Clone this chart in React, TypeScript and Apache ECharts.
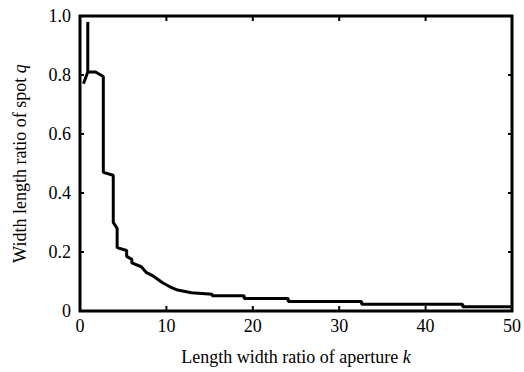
import React, { useEffect, useRef } from "react";
import * as echarts from "echarts";

const kValues = [0.4, 0.9, 0.9, 0.9, 1.8, 2.7, 2.7, 3.85, 3.85, 4.3, 4.3, 5.4, 5.4, 6.0, 6.0, 7.1, 7.7, 8.5, 9.6, 10.4, 11.3, 12.9, 15.3, 15.3, 19.0, 19.0, 24.1, 24.1, 32.6, 32.6, 44.3, 44.3, 50];
const qValues = [0.77, 0.81, 0.98, 0.81, 0.81, 0.795, 0.47, 0.46, 0.3, 0.28, 0.215, 0.205, 0.185, 0.175, 0.163, 0.15, 0.13, 0.118, 0.095, 0.082, 0.071, 0.062, 0.057, 0.052, 0.052, 0.042, 0.042, 0.032, 0.032, 0.023, 0.023, 0.014, 0.014];

const xTicks = [0, 10, 20, 30, 40, 50];
const yTicks = [0, 0.2, 0.4, 0.6, 0.8, 1];
const yTickLabels: Record<string, string> = { "0": "0", "0.2": "0.2", "0.4": "0.4", "0.6": "0.6", "0.8": "0.8", "1": "1.0" };

const FONT = "Liberation Serif";
const X_MIN = xTicks[0];
const X_MAX = xTicks[xTicks.length - 1];
const Y_MIN = yTicks[0];
const Y_MAX = yTicks[yTicks.length - 1];

const innerX = xTicks.slice(1, -1);
const innerY = yTicks.slice(1, -1);

const frameRender = (_params: any, api: any) => {
  const p0 = api.coord([X_MIN, Y_MIN]);
  const p1 = api.coord([X_MAX, Y_MAX]);
  const stroke = { stroke: "#000", lineWidth: 3, fill: "none" };
  const tickStyle = { stroke: "#000", lineWidth: 2 };
  const children: any[] = [
    {
      type: "rect",
      shape: { x: p0[0], y: p1[1], width: p1[0] - p0[0], height: p0[1] - p1[1] },
      style: stroke,
    },
  ];
  innerX.forEach((x) => {
    const b = api.coord([x, Y_MIN]);
    const t = api.coord([x, Y_MAX]);
    children.push({ type: "line", shape: { x1: b[0], y1: b[1], x2: b[0], y2: b[1] - 5 }, style: tickStyle });
    children.push({ type: "line", shape: { x1: t[0], y1: t[1], x2: t[0], y2: t[1] + 5 }, style: tickStyle });
  });
  innerY.forEach((y) => {
    const l = api.coord([X_MIN, y]);
    const r = api.coord([X_MAX, y]);
    children.push({ type: "line", shape: { x1: l[0], y1: l[1], x2: l[0] + 4, y2: l[1] }, style: tickStyle });
    children.push({ type: "line", shape: { x1: r[0], y1: r[1], x2: r[0] - 4, y2: r[1] }, style: tickStyle });
  });
  return { type: "group", children };
};

export default function App() {
  const ref = useRef<HTMLDivElement>(null);
  useEffect(() => {
    if (!ref.current) return;
    const chart = echarts.init(ref.current, null, { renderer: "svg" });
    chart.setOption({
      animation: false,
      backgroundColor: "#fff",
      grid: { left: 80, right: 7, top: 16, bottom: 61, containLabel: false, show: false },
      xAxis: {
        type: "value",
        min: X_MIN,
        max: X_MAX,
        interval: 10,
        axisLine: { show: false },
        axisTick: { show: false },
        splitLine: { show: false },
        axisLabel: { color: "#000", fontFamily: FONT, fontSize: 18, margin: 6 },
        name: "Length width ratio of aperture {i|k}",
        nameLocation: "middle",
        nameGap: 37,
        nameTextStyle: {
          color: "#000",
          fontFamily: FONT,
          fontSize: 18,
          rich: { i: { fontStyle: "italic", fontFamily: FONT, fontSize: 18, color: "#000" } },
        },
      },
      yAxis: {
        type: "value",
        min: Y_MIN,
        max: Y_MAX,
        interval: 0.2,
        axisLine: { show: false },
        axisTick: { show: false },
        splitLine: { show: false },
        axisLabel: {
          color: "#000",
          fontFamily: FONT,
          fontSize: 18,
          margin: 9,
          formatter: (v: number) => yTickLabels[String(Math.round(v * 10) / 10)] ?? String(v),
        },
        name: "Width length ratio of spot {i|q}",
        nameLocation: "middle",
        nameGap: 51,
        nameTextStyle: {
          color: "#000",
          fontFamily: FONT,
          fontSize: 18,
          rich: { i: { fontStyle: "italic", fontFamily: FONT, fontSize: 18, color: "#000" } },
        },
      },
      series: [
        {
          type: "custom",
          renderItem: frameRender,
          data: [[X_MIN, Y_MIN]],
          clip: false,
          silent: true,
          z: 4,
        },
        {
          type: "line",
          data: kValues.map((k, i) => [k, qValues[i]]),
          symbol: "none",
          lineStyle: { color: "#000", width: 3 },
          z: 3,
        },
      ],
    });
    return () => chart.dispose();
  }, []);
  return (
    <div
      ref={ref}
      style={{ position: "fixed", left: 0, top: 0, width: 524, height: 372, background: "#fff" }}
    />
  );
}
